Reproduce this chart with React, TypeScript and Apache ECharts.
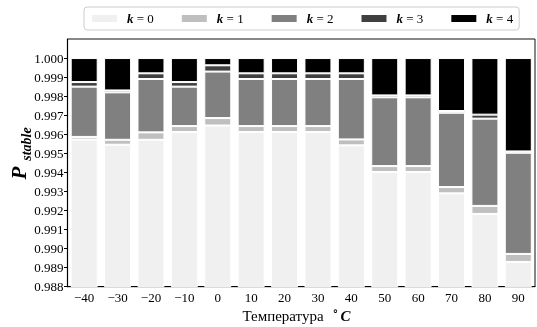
import React, { useEffect, useRef } from "react";
import * as echarts from "echarts";

const temperatures = ["-40", "-30", "-20", "-10", "0", "10", "20", "30", "40", "50", "60", "70", "80", "90"];
const k0 = [0.99572, 0.99545, 0.99571, 0.99612, 0.99646, 0.99612, 0.99612, 0.99612, 0.99542, 0.99402, 0.99402, 0.9929, 0.99182, 0.9893];
const k1 = [0.00014, 0.00026, 0.00039, 0.00031, 0.00039, 0.00031, 0.00031, 0.00031, 0.00031, 0.00031, 0.00031, 0.00033, 0.00042, 0.00042];
const k2 = [0.00264, 0.00249, 0.0028, 0.00207, 0.00244, 0.00247, 0.00247, 0.00247, 0.00317, 0.00361, 0.00361, 0.0039, 0.00458, 0.00531];
const k3 = [0.00024, 0.0001, 0.0003, 0.00024, 0.00033, 0.0003, 0.0003, 0.0003, 0.0003, 0.0001, 0.0001, 0.00009, 0.00021, 0.00007];
const k4 = [0.00126, 0.0017, 0.0008, 0.00126, 0.00038, 0.0008, 0.0008, 0.0008, 0.0008, 0.00196, 0.00196, 0.00278, 0.00297, 0.0049];
const yTicks = [0.988, 0.989, 0.99, 0.991, 0.992, 0.993, 0.994, 0.995, 0.996, 0.997, 0.998, 0.999, 1.0];
const seriesNames = ["k = 0", "k = 1", "k = 2", "k = 3", "k = 4"];
const seriesData = [k0, k1, k2, k3, k4];
const colors = ["#f0f0f0", "#bfbfbf", "#808080", "#404040", "#000000"];

const FONT = "'Liberation Serif', 'DejaVu Serif', serif";

export default function App() {
  const ref = useRef<HTMLDivElement>(null);
  useEffect(() => {
    if (!ref.current) return;
    const chart = echarts.init(ref.current, null, { renderer: "svg" });
    chart.setOption({
      animation: false,
      textStyle: { fontFamily: FONT },
      legend: {
        left: 84,
        top: 7,
        padding: [5, 6, 5, 6],
        itemGap: 26,
        itemWidth: 27,
        itemHeight: 9,
        borderColor: "#cccccc",
        borderWidth: 1,
        borderRadius: 3,
        icon: "rect",
        data: seriesNames,
        formatter: (name: string) => "{k|k}{r|" + name.slice(1) + "}",
        textStyle: {
          fontFamily: FONT,
          fontSize: 13,
          color: "#000",
          padding: [0, 0, 0, 4],
          rich: {
            k: { fontFamily: FONT, fontSize: 13, fontWeight: "bold", fontStyle: "italic", color: "#000" },
            r: { fontFamily: FONT, fontSize: 13, color: "#000" },
          },
        },
      },
      grid: {
        left: 67.5,
        right: 2,
        top: 39,
        bottom: 40.3,
        show: true,
        borderColor: "#111",
        borderWidth: 1,
        backgroundColor: "transparent",
      },
      xAxis: {
        type: "category",
        data: temperatures,
        axisLine: { lineStyle: { color: "#000", width: 1.2 } },
        axisTick: { alignWithLabel: true, length: 3.5, lineStyle: { color: "#000" } },
        axisLabel: {
          fontFamily: FONT,
          fontSize: 13,
          color: "#000",
          margin: 4,
          formatter: (v: string) => v.replace("-", "\u2212"),
        },
      },
      yAxis: {
        type: "value",
        min: 0.988,
        max: 1.001,
        interval: 0.001,
        splitLine: { show: false },
        axisLine: { show: true, lineStyle: { color: "#000", width: 1.2 } },
        axisTick: { show: true, length: 3.5, lineStyle: { color: "#000" }, customValues: yTicks },
        axisLabel: {
          fontFamily: FONT,
          fontSize: 13,
          color: "#000",
          margin: 4,
          customValues: yTicks,
          formatter: (v: number) => (v > 1.0005 ? "" : v.toFixed(3)),
        },
      },
      graphic: [
        {
          type: "text",
          x: 19,
          y: 173,
          rotation: Math.PI / 2,
          style: {
            text: "P",
            font: "italic bold 21px " + FONT,
            fill: "#000",
            align: "center",
            verticalAlign: "middle",
          },
        },
        {
          type: "text",
          x: 26,
          y: 144,
          rotation: Math.PI / 2,
          style: {
            text: "stable",
            font: "italic bold 14px " + FONT,
            fill: "#000",
            align: "center",
            verticalAlign: "middle",
          },
        },
        {
          type: "text",
          x: 283,
          y: 316,
          style: {
            text: "Температура",
            font: "15px " + FONT,
            fill: "#000",
            align: "center",
            verticalAlign: "middle",
          },
        },
        {
          type: "text",
          x: 335.5,
          y: 311,
          style: {
            text: "\u2218",
            font: "12px " + FONT,
            fill: "#000",
            align: "center",
            verticalAlign: "middle",
          },
        },
        {
          type: "text",
          x: 345.5,
          y: 316,
          style: {
            text: "C",
            font: "italic bold 15px " + FONT,
            fill: "#000",
            align: "center",
            verticalAlign: "middle",
          },
        },
      ],
      series: seriesData.map((d, i) => ({
        name: seriesNames[i],
        type: "bar",
        stack: "p",
        data: d,
        barWidth: 27,
        clip: true,
        itemStyle: { color: colors[i], borderColor: "#ffffff", borderWidth: 1 },
        emphasis: { disabled: true },
      })),
    });
    return () => chart.dispose();
  }, []);
  return <div ref={ref} style={{ position: "fixed", left: 0, top: 0, width: 537, height: 327 }} />;
}
